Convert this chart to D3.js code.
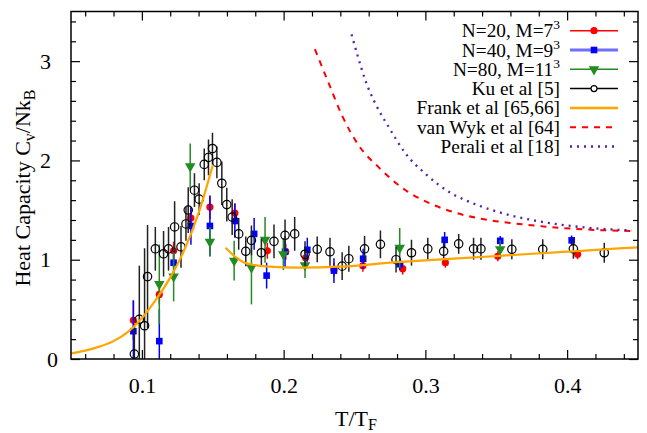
<!DOCTYPE html>
<html><head><meta charset="utf-8">
<script src="https://cdn.jsdelivr.net/npm/d3@7/dist/d3.min.js"></script>
<style>
body{margin:0;background:#fff;}
svg{display:block;}
text{font-family:"Liberation Serif","Times New Roman",serif;fill:#000;}
</style></head>
<body>
<svg id="c" width="647" height="433"></svg>
<script>
// ---------- data ----------
const n20T   = [0.094,0.1123,0.1224,0.1346,0.148,0.1656,0.1885,0.2015,0.2155,0.2355,0.2559,0.284,0.3141,0.3511,0.4074];
const n20C   = [0.39,0.65,1.09,1.42,1.53,1.47,1.09,1.08,1.02,0.90,0.94,0.91,0.97,1.035,1.055];
const n20Err = [0.2,0.1,0.09,0.1,0.12,0.1,0.08,0.08,0.08,0.07,0.06,0.06,0.05,0.05,0.05];

const n40T   = [0.094,0.1123,0.1224,0.1346,0.148,0.1656,0.1792,0.188,0.201,0.2167,0.2355,0.2561,0.2819,0.3136,0.3528,0.4032];
const n40C   = [0.28,0.18,0.97,1.34,1.34,1.39,1.26,0.84,1.08,1.10,0.89,1.01,0.955,1.20,1.19,1.195];
const n40Err = [0.31,0.32,0.12,0.19,0.3,0.17,0.16,0.13,0.16,0.12,0.125,0.1,0.06,0.08,0.05,0.05];

const n80T   = [0.1123,0.1224,0.1341,0.148,0.1651,0.1773,0.1869,0.1998,0.2151,0.2819,0.3528];
const n80C   = [0.754,0.83,1.94,1.18,0.99,0.92,1.20,1.055,0.945,1.12,1.105];
const n80Err = [0.4,0.25,0.23,0.15,0.2,0.37,0.23,0.16,0.13,0.2,0.09];

const kuT   = [0.0947,0.0982,0.1019,0.104,0.1095,0.1153,0.1188,0.1231,0.1276,0.1311,0.1327,0.1371,0.1404,0.144,0.147,0.1498,0.1529,0.1564,0.1599,0.1637,0.1683,0.1733,0.1773,0.1843,0.1932,0.201,0.2078,0.2151,0.2237,0.2327,0.2413,0.246,0.2571,0.2683,0.2793,0.2902,0.3017,0.3129,0.3235,0.334,0.3392,0.361,0.3828,0.4044,0.4262];
const kuC   = [0.05,0.40,0.335,0.83,1.11,1.06,1.11,1.33,1.13,1.36,1.50,1.70,1.61,1.96,2.03,2.12,1.98,1.77,1.555,1.43,1.26,1.085,1.195,1.07,1.185,1.246,1.26,1.055,1.105,1.08,0.935,1.01,1.11,1.155,1.00,1.07,1.11,1.085,1.16,1.11,1.11,1.105,1.105,1.11,1.07];
const kuErr = [0.3,0.54,0.78,0.52,0.22,0.23,0.22,0.26,0.21,0.17,0.23,0.17,0.16,0.16,0.18,0.16,0.16,0.22,0.17,0.18,0.16,0.15,0.15,0.14,0.17,0.16,0.17,0.13,0.13,0.14,0.14,0.13,0.13,0.14,0.13,0.13,0.11,0.1,0.1,0.11,0.11,0.1,0.1,0.1,0.1];

const frankLowT = [0.05,0.06,0.07,0.08,0.09,0.10,0.11,0.12,0.13,0.14,0.15];
const frankLowC = [0.057,0.085,0.125,0.18,0.27,0.41,0.60,0.82,1.10,1.47,1.95];
const frankHighT = [0.159,0.165,0.171,0.18,0.19,0.21,0.24,0.28,0.32,0.37,0.41,0.45];
const frankHighC = [1.12,1.04,0.98,0.945,0.93,0.92,0.93,0.975,1.01,1.055,1.09,1.125];

const wykT = [0.2221,0.232,0.2413,0.253,0.2671,0.286,0.2976,0.3211,0.3458,0.3704,0.3962,0.4197,0.4455];
const wykC = [3.12,2.77,2.45,2.15,1.93,1.70,1.605,1.474,1.397,1.354,1.32,1.30,1.29];

const peraliT = [0.2479,0.2519,0.2578,0.2648,0.2742,0.286,0.300,0.3188,0.3282,0.3516,0.375,0.3986,0.422,0.4455];
const peraliC = [3.27,3.07,2.80,2.57,2.335,2.07,1.866,1.665,1.60,1.48,1.40,1.347,1.313,1.296];

const xTicks = [0.1,0.2,0.3,0.4];
const xMinor = [0.06,0.08,0.12,0.14,0.16,0.18,0.22,0.24,0.26,0.28,0.32,0.34,0.36,0.38,0.42,0.44];
const yTicks = [0,1,2,3];
const yMinor = [0.2,0.4,0.6,0.8,1.2,1.4,1.6,1.8,2.2,2.4,2.6,2.8,3.2,3.4];

// ---------- layout ----------
const svg = d3.select("#c");
const L = 71, R = 638, T = 11.5, B = 359;
const x = d3.scaleLinear().domain([0.05,0.45]).range([L,R]);
const y = d3.scaleLinear().domain([0,3.5]).range([B,T]);

svg.append("defs").append("clipPath").attr("id","clip")
  .append("rect").attr("x",L).attr("y",T).attr("width",R-L).attr("height",B-T);

// axes
function styleAxis(g){ g.select(".domain").remove(); g.selectAll("line").attr("stroke","#000").attr("stroke-width",1.2); g.selectAll("text").style("font-size","22px").attr("font-family","Liberation Serif"); }
svg.append("g").attr("transform",`translate(0,${B})`)
  .call(d3.axisBottom(x).tickValues(xTicks).tickSize(-9).tickPadding(18).tickFormat(d3.format(".1f"))).call(styleAxis);
svg.append("g").attr("transform",`translate(0,${B})`)
  .call(d3.axisBottom(x).tickValues(xMinor).tickSize(-5).tickFormat("")).call(styleAxis);
svg.append("g").attr("transform",`translate(0,${T})`)
  .call(d3.axisTop(x).tickValues(xTicks).tickSize(-9).tickFormat("")).call(styleAxis);
svg.append("g").attr("transform",`translate(0,${T})`)
  .call(d3.axisTop(x).tickValues(xMinor).tickSize(-5).tickFormat("")).call(styleAxis);
const yl = svg.append("g").attr("transform",`translate(${L},0)`)
  .call(d3.axisLeft(y).tickValues(yTicks).tickSize(-9).tickPadding(20).tickFormat(d3.format("d"))).call(styleAxis);
yl.selectAll(".tick text").filter(d=>d===0).attr("dx","7");
svg.append("g").attr("transform",`translate(${L},0)`)
  .call(d3.axisLeft(y).tickValues(yMinor).tickSize(-5).tickFormat("")).call(styleAxis);
svg.append("g").attr("transform",`translate(${R},0)`)
  .call(d3.axisRight(y).tickValues(yTicks).tickSize(-9).tickFormat("")).call(styleAxis);
svg.append("g").attr("transform",`translate(${R},0)`)
  .call(d3.axisRight(y).tickValues(yMinor).tickSize(-5).tickFormat("")).call(styleAxis);

// axis labels
const xl = svg.append("text").attr("x",356).attr("y",426).attr("text-anchor","middle").style("font-size","22px");
xl.append("tspan").text("T/T");
xl.append("tspan").attr("dy",4).style("font-size","16px").text("F");
const ylab = svg.append("text").attr("transform","translate(30,188) rotate(-90)").attr("text-anchor","middle").style("font-size","22px");
ylab.append("tspan").text("Heat Capacity C");
ylab.append("tspan").attr("dy",5).style("font-size","16px").text("v");
ylab.append("tspan").attr("dy",-5).text("/Nk");
ylab.append("tspan").attr("dy",5).style("font-size","16px").text("B");

// plot area
const P = svg.append("g").attr("clip-path","url(#clip)");

function errBars(T_,C_,E_,color,w){
  P.append("g").selectAll("line").data(T_).join("line")
    .attr("x1",(d)=>x(d)).attr("x2",(d)=>x(d))
    .attr("y1",(d,i)=>y(C_[i]-E_[i])).attr("y2",(d,i)=>y(C_[i]+E_[i]))
    .attr("stroke",color).attr("stroke-width",w);
}
const tri = d3.symbol().type(d3.symbolTriangle).size(48);

// N=20 red
errBars(n20T,n20C,n20Err,"#ff0000",1.5);
P.append("g").selectAll("circle").data(n20T).join("circle")
  .attr("cx",d=>x(d)).attr("cy",(d,i)=>y(n20C[i])).attr("r",3.6).attr("fill","#ff0000");
// N=40 blue
errBars(n40T,n40C,n40Err,"#0000ff",1.5);
P.append("g").selectAll("rect").data(n40T).join("rect")
  .attr("x",d=>x(d)-3.3).attr("y",(d,i)=>y(n40C[i])-3.3).attr("width",6.6).attr("height",6.6).attr("fill","#0000ff");
// N=80 green
errBars(n80T,n80C,n80Err,"#228b22",1.5);
P.append("g").selectAll("path").data(n80T).join("path")
  .attr("d",tri).attr("transform",(d,i)=>`translate(${x(d)},${y(n80C[i])}) rotate(180)`).attr("fill","#228b22");
// Ku black
errBars(kuT,kuC,kuErr,"#222",1.5);
P.append("g").selectAll("circle").data(kuT).join("circle")
  .attr("cx",d=>x(d)).attr("cy",(d,i)=>y(kuC[i])).attr("r",4.2).attr("fill","none").attr("stroke","#000").attr("stroke-width",1.2);

// curves
const line = d3.line().x(d=>x(d[0])).y(d=>y(d[1])).curve(d3.curveMonotoneX);
P.append("path").datum(d3.zip(frankLowT,frankLowC)).attr("d",line).attr("fill","none").attr("stroke","#ffa500").attr("stroke-width",2.2);
P.append("path").datum(d3.zip(frankHighT,frankHighC)).attr("d",line).attr("fill","none").attr("stroke","#ffa500").attr("stroke-width",2.2);
P.append("path").datum(d3.zip(wykT,wykC)).attr("d",line).attr("fill","none").attr("stroke","#ff0000").attr("stroke-width",2).attr("stroke-dasharray","6,6");
P.append("path").datum(d3.zip(peraliT,peraliC)).attr("d",line).attr("fill","none").attr("stroke","#5a1fa8").attr("stroke-width",2.3).attr("stroke-dasharray","2,5");

// frame
svg.append("rect").attr("x",L).attr("y",T).attr("width",R-L).attr("height",B-T).attr("fill","none").attr("stroke","#000").attr("stroke-width",1.5);

// legend
const legLabels = [["N=20, M=7","3"],["N=40, M=9","3"],["N=80, M=11","3"],["Ku et al [5]",""],["Frank et al [65,66]",""],["van Wyk et al [64]",""],["Perali et al [18]",""]];
const legY0 = 30.7, legDy = 19.3, legTX = 560, lx1 = 570, lx2 = 618, lm = 594;
const LG = svg.append("g");
legLabels.forEach((lab,i)=>{
  const yy = legY0 + i*legDy;
  const t = LG.append("text").attr("x",legTX).attr("y",yy+6.5).attr("text-anchor","end").style("font-size","19.3px");
  t.append("tspan").text(lab[0]);
  if(lab[1]) t.append("tspan").attr("dy",-8).style("font-size","13.5px").text(lab[1]);
});
function legLine(i,color,w,dash){
  const yy = legY0 + i*legDy;
  const l = LG.append("line").attr("x1",lx1).attr("x2",lx2).attr("y1",yy).attr("y2",yy).attr("stroke",color).attr("stroke-width",w);
  if(dash) l.attr("stroke-dasharray",dash);
  return yy;
}
let yy;
yy = legLine(0,"#ff0000",1.5); LG.append("circle").attr("cx",lm).attr("cy",yy).attr("r",3.6).attr("fill","#ff0000");
yy = legLine(1,"#6f6fff",3); LG.append("rect").attr("x",lm-3.3).attr("y",yy-3.3).attr("width",6.6).attr("height",6.6).attr("fill","#0000ff");
yy = legLine(2,"#228b22",1.5); LG.append("path").attr("d",tri).attr("transform",`translate(${lm},${yy}) rotate(180)`).attr("fill","#228b22");
yy = legLine(3,"#000",1.5); LG.append("circle").attr("cx",lm).attr("cy",yy).attr("r",3).attr("fill","#fff").attr("stroke","#000").attr("stroke-width",1.2);
legLine(4,"#ffa500",2.5);
legLine(5,"#ff0000",2,"6,6");
legLine(6,"#5a1fa8",2.3,"2,5");
</script>
</body></html>
